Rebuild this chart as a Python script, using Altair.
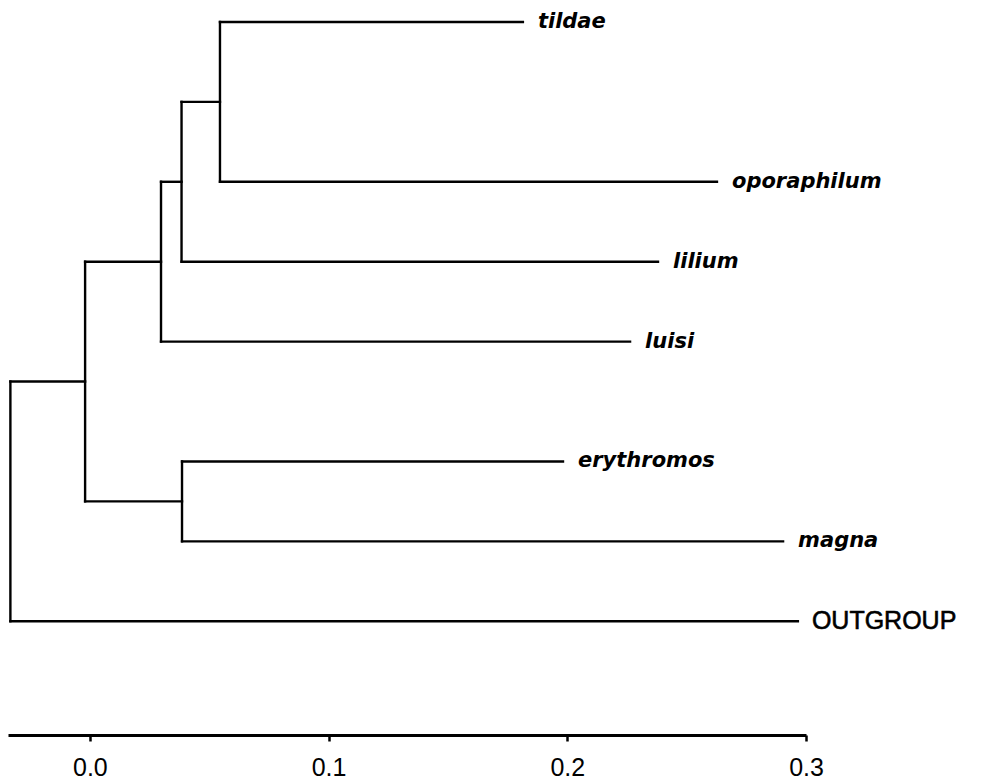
import altair as alt
import pandas as pd

# ---- data ----
leaf_names = ["tildae", "oporaphilum", "lilium", "luisi", "erythromos", "magna", "OUTGROUP"]
leaf_dist = [0.1814, 0.2627, 0.2380, 0.2263, 0.1982, 0.2904, 0.2966]
leaf_row = [0, 2, 3, 4, 5.5, 6.5, 7.5]
leaf_parent = ["D", "D", "C", "B", "E", "E", "root"]

node_names = ["root", "A", "B", "C", "D", "E"]
node_dist = [-0.0333, -0.0020, 0.0298, 0.0384, 0.0545, 0.0386]
node_parent = ["", "root", "A", "B", "C", "A"]

tick_values = [0.0, 0.1, 0.2, 0.3]

# ---- build tree segments ----
children = {n: [] for n in node_names}
for n, p in zip(leaf_names, leaf_parent):
    children[p].append(n)
for n, p in zip(node_names, node_parent):
    if p:
        children[p].append(n)
dist = dict(zip(leaf_names, leaf_dist))
dist.update(dict(zip(node_names, node_dist)))
row = dict(zip(leaf_names, leaf_row))


def get_row(n):
    if n in row:
        return row[n]
    rs = [get_row(c) for c in children[n]]
    row[n] = (min(rs) + max(rs)) / 2
    return row[n]


for n in node_names:
    get_row(n)

segs = []
for n in node_names:
    rs = [row[c] for c in children[n]]
    segs.append({"x": dist[n], "x2": dist[n], "y": min(rs), "y2": max(rs)})
    for c in children[n]:
        segs.append({"x": dist[n], "x2": dist[c], "y": row[c], "y2": row[c]})
seg_df = pd.DataFrame(segs)

lab_df = pd.DataFrame({"x": leaf_dist, "y": leaf_row, "name": leaf_names})
species_df = lab_df[lab_df["name"] != "OUTGROUP"]
out_df = lab_df[lab_df["name"] == "OUTGROUP"]

xenc = alt.X(
    "x:Q",
    scale=alt.Scale(domain=[-0.0343, 0.3], nice=False, zero=False),
    axis=alt.Axis(
        values=tick_values,
        format=".1f",
        title=None,
        grid=False,
        domainColor="black",
        domainWidth=3,
        tickColor="black",
        tickWidth=2.5,
        tickSize=6,
        labelFont="Liberation Sans",
        labelFontSize=25,
        labelColor="black",
        labelPadding=14,
        labelFlush=False,
        labelOverlap=False,
    ),
)
yenc = alt.Y(
    "y:Q",
    scale=alt.Scale(domain=[-0.175, 8.924], reverse=True, nice=False, zero=False),
    axis=None,
)

tree = alt.Chart(seg_df).mark_rule(color="black", strokeWidth=2.4, strokeCap="square").encode(
    x=xenc, x2="x2:Q", y=yenc, y2="y2:Q"
)

species = alt.Chart(species_df).mark_text(
    align="left", baseline="middle", dx=15, font="DejaVu Sans",
    fontSize=21, fontStyle="italic", fontWeight="bold", color="black"
).encode(x=xenc, y=yenc, text="name:N")

outgroup = alt.Chart(out_df).mark_text(
    align="left", baseline="middle", dx=14, font="Liberation Sans",
    fontSize=25, color="black", stroke="black", strokeWidth=0.6
).encode(x=xenc, y=yenc, text="name:N")

chart = (
    alt.layer(tree, species, outgroup)
    .properties(
        width=798,
        height=727,
        autosize=alt.AutoSizeParams(type="none"),
        padding={"left": 0, "top": 0, "right": 160, "bottom": 45},
        background="white",
    )
    .configure_view(stroke=None)
)

chart.save("out.html", embed_options={"renderer": "svg", "actions": False})
